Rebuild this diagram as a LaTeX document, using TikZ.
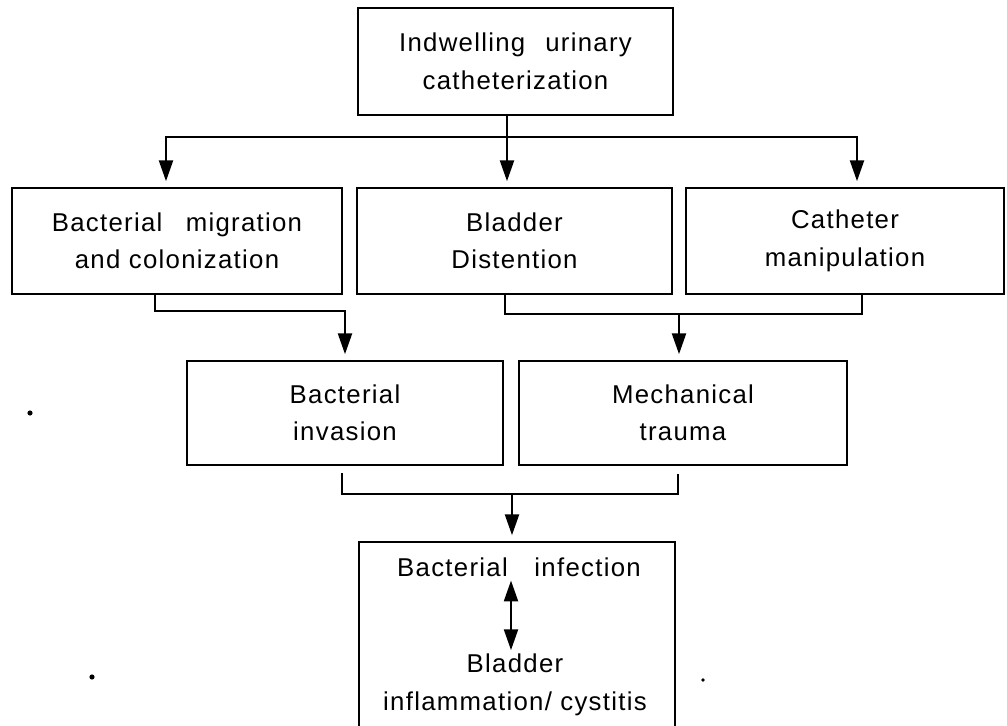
\documentclass[tikz,border=0pt]{standalone}
\usepackage{fontspec}
\setmainfont{Liberation Sans}[LetterSpace=5]
\usepackage{tikz}
\usetikzlibrary{arrows.meta, positioning, calc}

\begin{document}
\begin{tikzpicture}[x=0.03cm, y=-0.03cm,
    box/.style={draw, line width=2pt, minimum height=3.18cm, align=center, font=\fontsize{22}{32}\selectfont},
    lbl/.style={align=center, font=\fontsize{22}{32}\selectfont},
    line/.style={line width=1.6pt},
    arr/.style={line, -{Triangle[length=0.62cm, width=0.42cm]}, shorten >=0.17cm},
    dbl/.style={line, {Triangle[length=0.62cm, width=0.42cm]}-{Triangle[length=0.62cm, width=0.42cm]}}]
    \useasboundingbox (0,0) rectangle (1007,725);

    % boxes
    \node[box, minimum width=9.45cm, minimum height=3.21cm] (cath) at (515.5,61.5) {Indwelling\hspace{0.6cm}urinary\\catheterization};
    \node[box, minimum width=9.9cm] (migr) at (177,241) {Bacterial\hspace{0.7cm}migration\\and colonization};
    \node[box, minimum width=9.45cm] (dist) at (514.5,241) {Bladder\\Distention};
    \node[box, minimum width=9.54cm] (manip) at (845,241) {Catheter\\manipulation};
    \node[box, minimum width=9.48cm, minimum height=3.12cm] (inv) at (345,413) {Bacterial\\invasion};
    \node[box, minimum width=9.84cm, minimum height=3.12cm] (trauma) at (683,413) {Mechanical\\trauma};
    \node[box, minimum width=9.48cm, minimum height=5.94cm] (cyst) at (517,641) {};
    \node[lbl] (infect) at (519,567) {Bacterial\hspace{0.8cm}infection};
    \node[lbl] (inflam) at (515,685) {Bladder\\inflammation/ cystitis};

    % connectors
    \coordinate (split) at (507,137);
    \draw[line] (cath.south -| split) -- (split);
    \draw[arr] (split) -| ([xshift=-0.33cm]migr.north);
    \draw[arr] (split) -| ([xshift=0.36cm]manip.north);
    \draw[arr] (split) -- (split |- dist.north);

    \draw[arr] ([xshift=-0.66cm]migr.south) -- ++(0,16) -| (inv.north);

    \coordinate (join2) at (679,314);
    \draw[line] ([xshift=-0.29cm]dist.south) |- (join2) -| ([xshift=0.51cm]manip.south);
    \draw[arr] (join2) -- (join2 |- trauma.north);

    \coordinate (join3) at (512,494);
    \draw[line] ([xshift=-0.09cm, yshift=-0.21cm]inv.south) |- (join3) -| ([xshift=-0.15cm, yshift=-0.24cm]trauma.south);
    \draw[arr] (join3) -- (join3 |- cyst.north);

    \draw[dbl] ([xshift=-0.24cm]infect.south) -- ([xshift=-0.12cm]inflam.north);

    % specks
    \fill (30,413) circle[radius=2.2pt];
    \fill (92,677) circle[radius=2.2pt];
    \fill (703,680) circle[radius=1.6pt];
\end{tikzpicture}
\end{document}
